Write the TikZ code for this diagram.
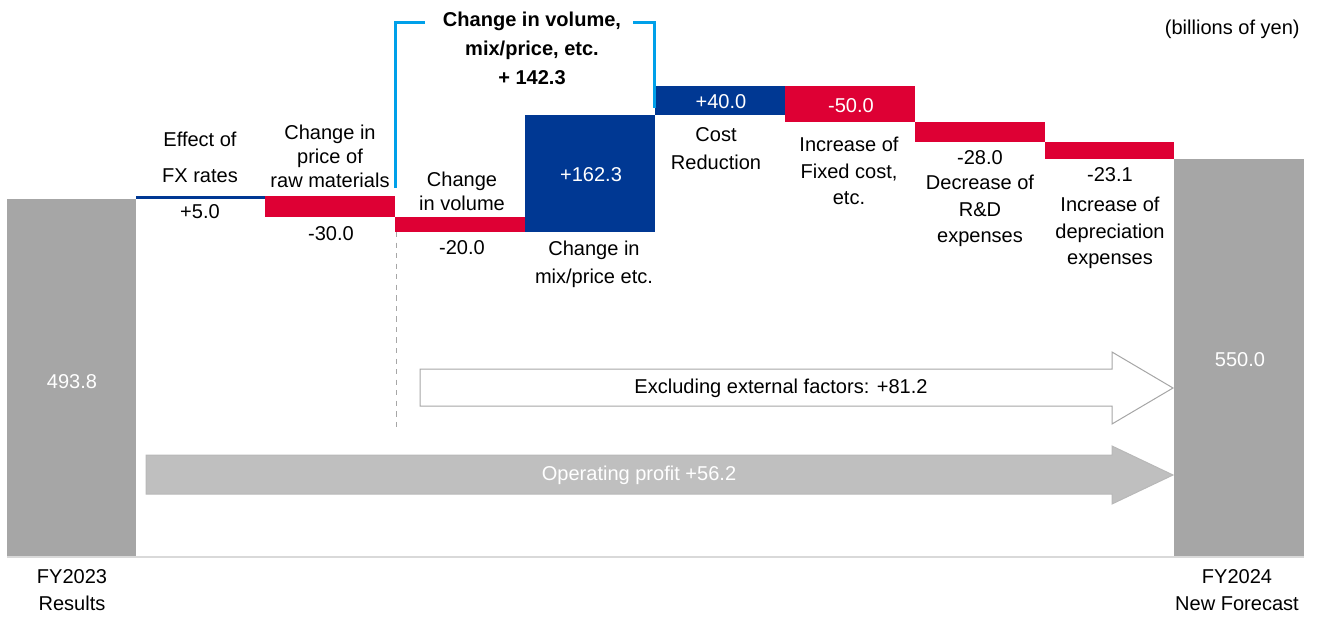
\documentclass[tikz,border=0pt]{standalone}
\usepackage{fontspec}
\setmainfont{Liberation Sans}
\definecolor{soylerod}{RGB}{222,0,52}
\definecolor{soyleblaa}{RGB}{0,56,147}
\definecolor{soylegra}{RGB}{166,166,166}
\definecolor{pilgra}{RGB}{191,191,191}
\definecolor{linjegra}{RGB}{217,217,217}
\definecolor{brakett}{RGB}{0,160,233}
\tikzset{
    lbl/.style={font=\fontsize{11.4}{#1}\selectfont, align=center, inner sep=0pt},
    lbl/.default=15.4,
    val/.style={font=\fontsize{11.4}{13}\selectfont, inner sep=0pt},
    valw/.style={val, text=white},
}
\begin{document}
\begin{tikzpicture}[x=0.2mm,y=-0.2mm]
    \useasboundingbox (0,0) rectangle (1323,620);
    %Grunnlinje
        \draw[line width=0.3mm, linjegra] (7,557)--(1304,557);

    %Soyler
        \fill[soylegra] (7,199) rectangle (136,556);
        \fill[soyleblaa] (136,196) rectangle (265,199);
        \fill[soylerod] (265,196) rectangle (395,217);
        \fill[soylerod] (395,217) rectangle (525,232);
        \fill[soyleblaa] (525,115) rectangle (655,232);
        \fill[soyleblaa] (655,86) rectangle (785,115);
        \fill[soylerod] (785,86) rectangle (915,122);
        \fill[soylerod] (915,122) rectangle (1045,142);
        \fill[soylerod] (1045,142) rectangle (1174,159);
        \fill[soylegra] (1174,159) rectangle (1304,556);

    %Piler
        \filldraw[fill=white, draw=soylegra, line width=0.2mm] (420,369)--(1112,369)--(1112,352)--(1173,388)--(1112,424)--(1112,406)--(420,406)--cycle;
        \filldraw[fill=pilgra, draw=soylegra!80, line width=0.2mm] (146,455)--(1112,455)--(1112,446)--(1173,475)--(1112,504)--(1112,494)--(146,494)--cycle;

    %Klamme
        \draw[brakett, line width=0.6mm] (395,188)--(395,22)--(425,22);
        \draw[brakett, line width=0.6mm] (633,22)--(654,22)--(654,108);
        \draw[dashed, soylegra, line width=0.2mm] (396,232)--(396,430);

    %Tekst
        \node[lbl, font=\bfseries\fontsize{11.4}{16.5}\selectfont] (tittel) at (532,48) {Change in volume,\\mix/price, etc.\\+ 142.3};
        \node[val, anchor=east] (enhet) at (1300,29) {(billions of yen)};

        \node[lbl=20.5] (fxlbl) at (200,157) {Effect of\\FX rates};
        \node[val] (fxval) at (200,212) {+5.0};
        \node[lbl=13.7] (rawlbl) at (330,156) {Change in\\price of\\raw materials};
        \node[val] (rawval) at (331,234) {-30.0};
        \node[lbl=13.7] (vollbl) at (462,191) {Change\\in volume};
        \node[val] (volval) at (462,248) {-20.0};
        \node[valw] (mixval) at (591,175) {+162.3};
        \node[lbl=15.9] (mixlbl) at (594,264) {Change in\\mix/price etc.};
        \node[valw] (costval) at (721,102) {+40.0};
        \node[lbl=15.9] (costlbl) at (716,149) {Cost\\Reduction};
        \node[valw] (fixval) at (851,106) {-50.0};
        \node[lbl=15.1] (fixlbl) at (849,171) {Increase of\\Fixed cost,\\etc.};
        \node[val] (rdval) at (980,158) {-28.0};
        \node[lbl=15.1] (rdlbl) at (980,211) {Decrease of\\R\&D\\expenses};
        \node[val] (depval) at (1110,175) {-23.1};
        \node[lbl=15.1] (deplbl) at (1110,233) {Increase of\\depreciation\\expenses};

        \node[valw] (fy23val) at (72,382) {493.8};
        \node[valw] (fy24val) at (1240,360) {550.0};
        \node[val] (eksl) at (781,388) {Excluding external factors: +81.2};
        \node[valw] (drift) at (639,475) {Operating profit +56.2};
        \node[lbl] (fy23lbl) at (72,590) {FY2023\\Results};
        \node[lbl] (fy24lbl) at (1237,590) {FY2024\\New Forecast};

        %
\end{tikzpicture}
\end{document}
